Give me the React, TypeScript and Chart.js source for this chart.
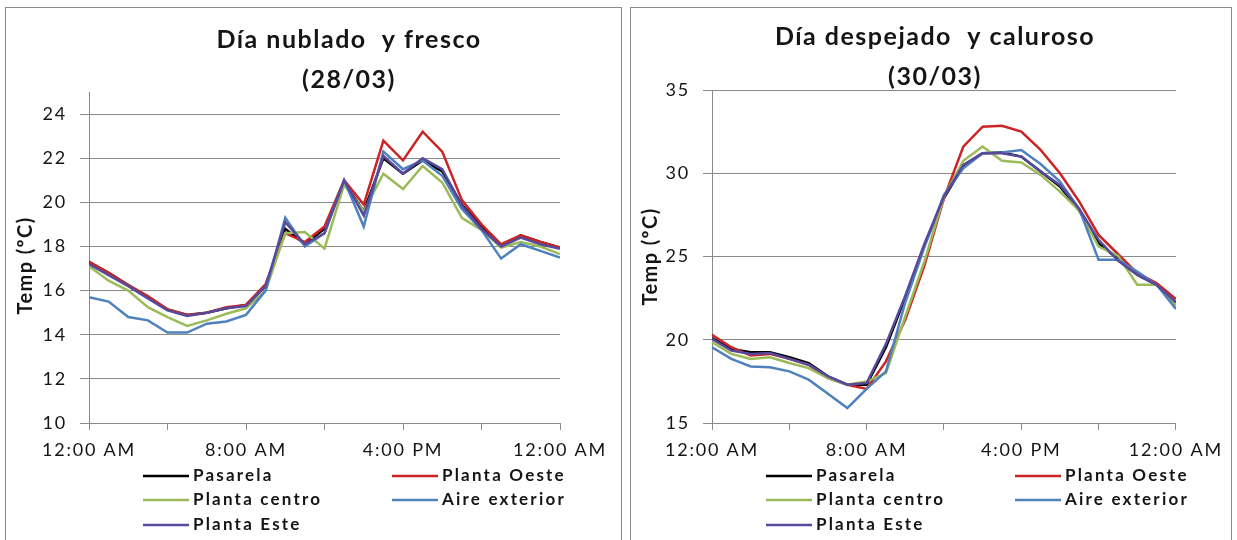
import React, { useEffect, useRef } from "react";
import { Chart, registerables } from "chart.js";

Chart.register(...registerables);

// ---------- data ----------
const hours = [0, 1, 2, 3, 4, 5, 6, 7, 8, 9, 10, 11, 12, 13, 14, 15, 16, 17, 18, 19, 20, 21, 22, 23, 24];
const xTickLabels = ["12:00 AM", "", "8:00 AM", "", "4:00 PM", "", "12:00 AM"];
const seriesNames = ["Pasarela", "Planta Oeste", "Planta centro", "Aire exterior", "Planta Este"];
const seriesColors = ["#000000", "#cc2424", "#9bbb59", "#4f81bd", "#574a9c"];

// Día nublado y fresco (28/03)
const cloudyPasarela = [17.3, 16.8, 16.25, 15.7, 15.15, 14.9, 15.0, 15.2, 15.35, 16.2, 18.8, 18.1, 18.8, 20.9, 19.6, 22.0, 21.3, 21.9, 21.4, 19.9, 18.9, 18.05, 18.5, 18.2, 17.95];
const cloudyOeste = [17.3, 16.8, 16.25, 15.75, 15.15, 14.9, 15.0, 15.25, 15.35, 16.3, 18.6, 18.2, 18.9, 21.0, 19.9, 22.8, 21.9, 23.2, 22.3, 20.1, 19.0, 18.1, 18.5, 18.2, 17.95];
const cloudyCentro = [17.1, 16.45, 16.0, 15.25, 14.8, 14.4, 14.65, 14.95, 15.2, 16.0, 18.6, 18.65, 17.9, 20.8, 19.6, 21.3, 20.6, 21.65, 20.9, 19.3, 18.75, 17.95, 18.2, 18.0, 17.65];
const cloudyAire = [15.7, 15.5, 14.8, 14.65, 14.1, 14.1, 14.5, 14.6, 14.9, 16.0, 19.3, 18.0, 18.6, 21.0, 18.9, 22.3, 21.5, 21.9, 21.2, 19.7, 18.75, 17.45, 18.1, 17.8, 17.5];
const cloudyEste = [17.2, 16.7, 16.2, 15.65, 15.1, 14.85, 15.0, 15.2, 15.3, 16.2, 19.1, 18.1, 18.6, 21.0, 19.4, 22.1, 21.3, 22.0, 21.5, 19.85, 18.8, 18.0, 18.4, 18.1, 17.9];

// Día despejado y caluroso (30/03)
const sunnyPasarela = [20.1, 19.45, 19.25, 19.25, 18.95, 18.6, 17.8, 17.3, 17.3, 19.55, 22.55, 25.7, 28.5, 30.45, 31.2, 31.25, 31.0, 30.1, 29.2, 27.75, 25.8, 24.85, 23.9, 23.3, 22.25];
const sunnyOeste = [20.3, 19.55, 19.05, 19.15, 18.85, 18.5, 17.7, 17.3, 17.05, 18.7, 21.2, 24.5, 28.5, 31.6, 32.8, 32.85, 32.5, 31.4, 30.0, 28.3, 26.3, 25.15, 24.0, 23.4, 22.45];
const sunnyCentro = [19.85, 19.15, 18.85, 18.95, 18.6, 18.3, 17.7, 17.3, 17.5, 18.0, 21.4, 24.75, 28.6, 30.75, 31.6, 30.75, 30.65, 29.9, 28.9, 27.75, 25.6, 25.05, 23.3, 23.3, 22.05];
const sunnyAire = [19.55, 18.85, 18.4, 18.35, 18.1, 17.6, 16.75, 15.9, 17.05, 18.1, 22.25, 25.6, 28.7, 30.3, 31.2, 31.25, 31.4, 30.55, 29.5, 27.85, 24.8, 24.8, 24.1, 23.3, 21.85];
const sunnyEste = [20.05, 19.35, 19.15, 19.2, 18.85, 18.5, 17.8, 17.3, 17.4, 19.75, 22.65, 25.8, 28.6, 30.5, 31.2, 31.2, 31.0, 30.1, 29.3, 27.85, 26.0, 24.75, 23.9, 23.3, 22.25];

const yAxisTitle = "Temp (ºC)";

// ---------- styling ----------
const GRID = "#8a8a8a";
const TEXT = "#151515";
const FONT = "Lato";
const TICK_SPACING = "1.8px";

type Area = { left: number; top: number; right: number; bottom: number };
type PanelProps = {
  left: number;
  top: number;
  width: number;
  height: number;
  area: Area;
  titleLines: string[];
  titleX: number;
  titleY: number[];
  yTitleShift: number;
  series: number[][];
  yMin: number;
  yMax: number;
  yStep: number;
};

function Panel(p: PanelProps) {
  const ref = useRef<HTMLCanvasElement>(null);
  useEffect(() => {
    const canvas = ref.current!;
    const setSpacing = (chart: any) => {
      (chart.ctx as any).letterSpacing = TICK_SPACING;
    };
    const decor = {
      id: "panelDecor",
      beforeUpdate: setSpacing,
      beforeLayout: setSpacing,
      beforeDraw: setSpacing,
      afterDraw(chart: any) {
        const ctx = chart.ctx as CanvasRenderingContext2D;
        const a = chart.chartArea;
        ctx.save();
        ctx.fillStyle = TEXT;
        ctx.textBaseline = "middle";
        // chart title
        ctx.textAlign = "center";
        ctx.font = `bold 25px ${FONT}`;
        (ctx as any).letterSpacing = "1.5px";
        p.titleLines.forEach((t, k) => ctx.fillText(t, p.titleX, p.titleY[k]));
        // y axis title (rotated)
        ctx.save();
        ctx.font = `bold 20px ${FONT}`;
        (ctx as any).letterSpacing = "1.4px";
        ctx.translate(21, (a.top + a.bottom) / 2 + p.yTitleShift);
        ctx.rotate(-Math.PI / 2);
        ctx.fillText(yAxisTitle, 0, 0);
        ctx.restore();
        // legend in two columns
        const colX = [54, 303];
        const rowY = [53, 77, 102];
        ctx.font = `bold 17px ${FONT}`;
        (ctx as any).letterSpacing = "2.2px";
        ctx.textAlign = "left";
        seriesNames.forEach((name, i) => {
          const x = a.left + colX[i % 2];
          const y = a.bottom + rowY[Math.floor(i / 2)];
          ctx.strokeStyle = seriesColors[i];
          ctx.lineWidth = 2.5;
          ctx.beginPath();
          ctx.moveTo(x, y);
          ctx.lineTo(x + 46, y);
          ctx.stroke();
          ctx.fillStyle = TEXT;
          ctx.fillText(name, x + 50, y);
        });
        ctx.restore();
      },
    };
    const chart = new Chart(canvas, {
      type: "line",
      data: {
        datasets: seriesNames.map((name, i) => ({
          label: name,
          data: hours.map((h, j) => ({ x: h, y: p.series[i][j] })),
          borderColor: seriesColors[i],
          backgroundColor: seriesColors[i],
          borderWidth: 2.5,
          pointRadius: 0,
          tension: 0,
          order: seriesNames.length - i,
        })),
      },
      options: {
        animation: false,
        responsive: false,
        maintainAspectRatio: false,
        layout: {
          padding: { left: 0, top: p.area.top, right: p.width - p.area.right, bottom: 0 },
        },
        plugins: {
          legend: { display: false },
          title: { display: false },
          tooltip: { enabled: false },
        },
        scales: {
          x: {
            type: "linear",
            min: 0,
            max: 24,
            afterFit: (s: any) => {
              s.height = p.height - p.area.bottom;
            },
            border: { color: GRID, width: 1 },
            grid: { drawOnChartArea: false, drawTicks: true, tickLength: 7, color: GRID },
            ticks: {
              stepSize: 4,
              autoSkip: false,
              maxRotation: 0,
              padding: 9,
              color: TEXT,
              font: { family: FONT, size: 18 },
              callback: (v: any) => xTickLabels[Math.round(Number(v) / 4)] ?? "",
            },
          },
          y: {
            type: "linear",
            min: p.yMin,
            max: p.yMax,
            afterFit: (s: any) => {
              s.width = p.area.left;
            },
            border: { color: GRID, width: 1 },
            grid: { color: GRID, tickLength: 9, drawTicks: true },
            ticks: {
              stepSize: p.yStep,
              includeBounds: false,
              padding: 13,
              color: TEXT,
              font: { family: FONT, size: 18 },
            },
          },
        },
      },
      plugins: [decor],
    } as any);
    return () => chart.destroy();
  }, []);
  return (
    <>
      <div
        style={{
          position: "absolute",
          left: p.left,
          top: p.top,
          width: p.width,
          height: p.height + 20,
          border: "1px solid #8a8a8a",
          boxSizing: "border-box",
        }}
      />
      <canvas
        ref={ref}
        width={p.width}
        height={p.height}
        style={{ position: "absolute", left: p.left, top: p.top, width: p.width, height: p.height }}
      />
    </>
  );
}

export default function App() {
  return (
    <div
      style={{
        position: "absolute",
        left: 0,
        top: 0,
        width: 1237,
        height: 540,
        overflow: "hidden",
        background: "#ffffff",
      }}
    >
      <Panel
        left={5}
        top={7}
        width={617}
        height={540}
        area={{ left: 84, top: 85, right: 555, bottom: 416 }}
        titleLines={["Día nublado  y fresco", "(28/03)"]}
        titleX={344}
        titleY={[33, 73]}
        yTitleShift={8}
        series={[cloudyPasarela, cloudyOeste, cloudyCentro, cloudyAire, cloudyEste]}
        yMin={10}
        yMax={25}
        yStep={2}
      />
      <Panel
        left={630}
        top={7}
        width={602}
        height={540}
        area={{ left: 82, top: 83, right: 549, bottom: 416 }}
        titleLines={["Día despejado  y caluroso", "(30/03)"]}
        titleX={305}
        titleY={[30, 70]}
        yTitleShift={0}
        series={[sunnyPasarela, sunnyOeste, sunnyCentro, sunnyAire, sunnyEste]}
        yMin={15}
        yMax={35}
        yStep={5}
      />
    </div>
  );
}
